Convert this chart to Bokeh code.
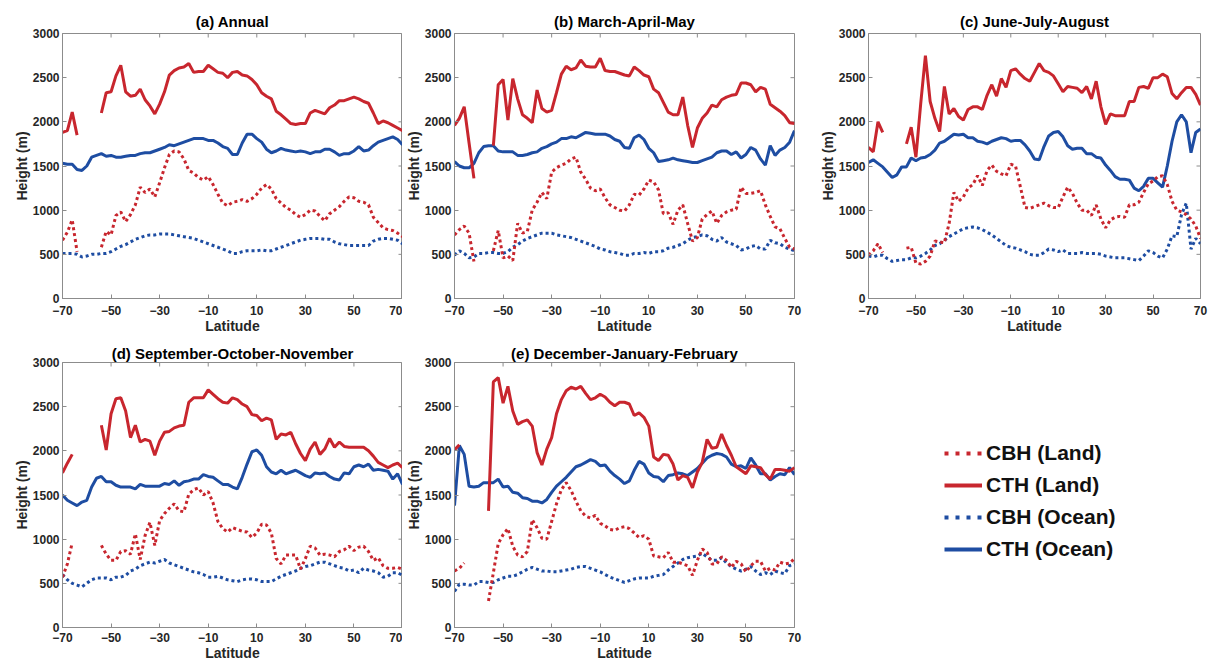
import math
from bokeh.plotting import figure
from bokeh.layouts import row, column
from bokeh.models import Range1d, FixedTicker, Legend, LegendItem, ColumnDataSource
from bokeh.embed import file_html
from bokeh.resources import INLINE

N = float("nan")
lat = list(range(-70, 71, 2))
x_ticks = [-70, -50, -30, -10, 10, 30, 50, 70]
y_ticks = [0, 500, 1000, 1500, 2000, 2500, 3000]
series_names = ["CBH (Land)", "CTH (Land)", "CBH (Ocean)", "CTH (Ocean)"]
titles = ["(a) Annual", "(b) March-April-May", "(c) June-July-August",
          "(d) September-October-November", "(e) December-January-February"]

# ---------------- (a) Annual ----------------
a_cbh_land = [660, 750, 890, 530, N, N, N, N, 580, 760,
              720, 940, 980, 870, 950, 1060, 1260, 1200, 1240, 1150,
              1310, 1480, 1630, 1670, 1660, 1580, 1450, 1420, 1370, 1340,
              1380, 1290, 1180, 1080, 1050, 1090, 1100, 1120, 1100, 1130,
              1180, 1250, 1290, 1240, 1130, 1080, 1030, 1000, 950, 920,
              950, 1000, 990, 930, 880, 960, 1000, 1040, 1100, 1150,
              1140, 1100, 1090, 1060, 920, 860, 800, 780, 770, 740, 700]
a_cth_land = [1880, 1900, 2110, 1850, N, N, N, N, 2100, 2330,
              2340, 2520, 2640, 2340, 2290, 2300, 2370, 2250, 2180, 2090,
              2200, 2340, 2530, 2580, 2610, 2620, 2660, 2560, 2570, 2570,
              2640, 2600, 2560, 2550, 2500, 2560, 2570, 2530, 2520, 2480,
              2420, 2330, 2290, 2260, 2120, 2080, 2030, 1980, 1970, 1980,
              1980, 2100, 2130, 2110, 2090, 2160, 2190, 2240, 2240, 2260,
              2280, 2260, 2230, 2210, 2100, 1980, 2010, 1990, 1960, 1930, 1900]
a_cbh_ocean = [510, 510, 510, 500, 470, 480, 500, 500, 510, 510,
               530, 560, 590, 610, 640, 670, 690, 710, 720, 720,
               730, 730, 730, 720, 710, 700, 690, 680, 660, 640,
               620, 600, 580, 560, 540, 510, 510, 530, 540, 540,
               540, 550, 540, 540, 560, 580, 600, 620, 640, 660,
               670, 680, 680, 680, 670, 670, 640, 620, 610, 600,
               600, 600, 600, 600, 650, 670, 680, 680, 670, 660, 620]
a_cth_ocean = [1530, 1520, 1520, 1460, 1450, 1500, 1600, 1620, 1640, 1610,
               1620, 1600, 1600, 1610, 1620, 1620, 1640, 1650, 1650, 1670,
               1690, 1710, 1740, 1730, 1750, 1770, 1790, 1810, 1810, 1810,
               1790, 1790, 1760, 1720, 1700, 1630, 1630, 1760, 1860, 1860,
               1810, 1770, 1690, 1650, 1670, 1700, 1680, 1670, 1660, 1670,
               1660, 1640, 1660, 1660, 1690, 1690, 1660, 1620, 1640, 1640,
               1670, 1720, 1670, 1680, 1730, 1770, 1790, 1810, 1830, 1800, 1740]

# ---------------- (b) March-April-May ----------------
b_cbh_land = [720, 780, 820, 740, 420, N, N, N, 540, 770,
              460, 480, 430, 850, 740, 760, 1000, 1090, 1200, 1130,
              1430, 1480, 1510, 1530, 1580, 1600, 1430, 1350, 1250, 1220,
              1240, 1140, 1060, 1030, 1000, 990, 1060, 1180, 1170, 1240,
              1340, 1320, 1230, 960, 970, 840, 1000, 1060, 850, 650,
              690, 900, 950, 990, 850, 940, 980, 1000, 1010, 1260,
              1190, 1190, 1200, 1220, 1060, 930, 810, 790, 680, 580, 560]
b_cth_land = [1960, 2040, 2170, 1760, 1360, N, N, N, 1730, 2420,
              2480, 2020, 2490, 2260, 2080, 2040, 1990, 2360, 2150, 2110,
              2130, 2330, 2540, 2630, 2590, 2610, 2700, 2630, 2620, 2620,
              2720, 2580, 2570, 2570, 2550, 2530, 2520, 2620, 2580, 2530,
              2510, 2370, 2330, 2220, 2110, 2080, 2080, 2280, 1960, 1710,
              1930, 2040, 2100, 2190, 2170, 2250, 2280, 2300, 2310, 2440,
              2440, 2420, 2340, 2390, 2370, 2200, 2160, 2120, 2070, 1990, 1980]
b_cbh_ocean = [490, 540, 510, 460, 470, 510, 510, 520, 520, 510,
               510, 530, 580, 610, 650, 680, 700, 720, 740, 740,
               740, 720, 710, 700, 690, 670, 650, 630, 610, 590,
               560, 550, 530, 520, 510, 490, 490, 510, 510, 520,
               510, 530, 530, 540, 570, 580, 600, 620, 660, 690,
               700, 720, 710, 670, 650, 690, 640, 620, 600, 550,
               560, 590, 600, 560, 560, 660, 630, 620, 580, 560, 540]
b_cth_ocean = [1550, 1500, 1480, 1480, 1530, 1650, 1720, 1730, 1730, 1670,
               1660, 1660, 1660, 1620, 1620, 1630, 1650, 1660, 1700, 1720,
               1750, 1770, 1810, 1810, 1830, 1820, 1850, 1880, 1870, 1860,
               1860, 1860, 1840, 1800, 1780, 1710, 1700, 1820, 1850, 1800,
               1700, 1650, 1550, 1560, 1570, 1590, 1570, 1560, 1550, 1540,
               1540, 1560, 1580, 1600, 1650, 1670, 1670, 1630, 1660, 1590,
               1630, 1710, 1680, 1580, 1510, 1730, 1620, 1680, 1710, 1770, 1900]

# ---------------- (c) June-July-August ----------------
c_cbh_land = [490, 540, 620, 520, N, N, N, N, 570, 580,
              400, 390, 420, 480, 650, 640, 630, 850, 1200, 1100,
              1150, 1250, 1290, 1390, 1280, 1450, 1510, 1440, 1410, 1390,
              1520, 1500, 1270, 1030, 1020, 1040, 1060, 1080, 1050, 1030,
              1030, 1150, 1260, 1190, 1080, 1000, 1000, 940, 1060, 900,
              800, 890, 920, 930, 920, 1060, 1060, 1090, 1200, 1300,
              1330, 1380, 1390, 1290, 1100, 1000, 980, 950, 900, 820, 680]
c_cth_land = [1710, 1660, 2000, 1880, N, N, N, N, 1750, 1940,
              1600, 2200, 2750, 2230, 2040, 1890, 2400, 2090, 2150, 2060,
              2020, 2140, 2170, 2170, 2140, 2300, 2420, 2290, 2490, 2390,
              2580, 2600, 2540, 2490, 2460, 2560, 2660, 2580, 2560, 2520,
              2430, 2340, 2400, 2390, 2380, 2330, 2400, 2260, 2460, 2170,
              1970, 2090, 2070, 2070, 2070, 2230, 2230, 2390, 2400, 2380,
              2500, 2500, 2540, 2510, 2320, 2260, 2330, 2390, 2390, 2310, 2190]
c_cbh_ocean = [480, 470, 490, 490, 450, 420, 430, 440, 440, 460,
               460, 480, 510, 550, 600, 620, 660, 700, 730, 760,
               790, 800, 810, 800, 780, 750, 720, 680, 640, 600,
               580, 570, 550, 530, 500, 490, 490, 520, 560, 550,
               530, 550, 510, 510, 510, 520, 510, 510, 510, 500,
               480, 470, 460, 460, 460, 450, 440, 430, 480, 540,
               520, 480, 460, 560, 710, 700, 950, 1080, 560, 680, 620]
c_cth_ocean = [1540, 1570, 1530, 1490, 1430, 1370, 1400, 1490, 1490, 1590,
               1560, 1590, 1600, 1630, 1680, 1760, 1780, 1820, 1860, 1850,
               1860, 1820, 1820, 1780, 1770, 1750, 1780, 1800, 1820, 1810,
               1780, 1790, 1790, 1740, 1670, 1580, 1570, 1720, 1840, 1880,
               1890, 1830, 1730, 1690, 1700, 1700, 1640, 1640, 1600, 1590,
               1510, 1450, 1380, 1350, 1350, 1340, 1250, 1220, 1270, 1360,
               1360, 1310, 1260, 1500, 1780, 2000, 2080, 2000, 1650, 1880, 1920]

# ---------------- (d) September-October-November ----------------
d_cbh_land = [570, 720, 960, N, N, N, N, N, 930, 830,
              760, 760, 860, 870, 830, 1060, 770, 1040, 1190, 930,
              1210, 1290, 1350, 1400, 1320, 1310, 1510, 1560, 1580, 1500,
              1540, 1410, 1200, 1120, 1080, 1130, 1110, 1090, 1080, 1020,
              1070, 1170, 1160, 1070, 780, 720, 820, 820, 820, 660,
              780, 920, 900, 820, 830, 820, 800, 860, 880, 920,
              870, 910, 920, 860, 760, 790, 700, 670, 670, 680, 660]
d_cth_land = [1750, 1860, 1960, N, N, N, N, N, 2290, 2010,
              2420, 2590, 2600, 2450, 2150, 2290, 2100, 2130, 2110, 1950,
              2110, 2210, 2220, 2260, 2280, 2290, 2550, 2600, 2600, 2600,
              2690, 2640, 2590, 2550, 2540, 2600, 2580, 2530, 2500, 2410,
              2400, 2340, 2370, 2350, 2130, 2190, 2180, 2210, 2080, 1970,
              1890, 2020, 2100, 1960, 2020, 2140, 2040, 2100, 2050, 2040,
              2040, 2040, 2040, 2000, 1940, 1870, 1840, 1810, 1840, 1860, 1810]
d_cbh_ocean = [600, 540, 500, 480, 460, 500, 540, 560, 560, 560,
               540, 570, 570, 590, 640, 660, 700, 720, 740, 730,
               750, 770, 730, 710, 690, 670, 650, 630, 620, 600,
               570, 570, 580, 560, 540, 530, 520, 540, 550, 550,
               540, 520, 520, 520, 550, 580, 600, 620, 640, 670,
               690, 700, 720, 740, 740, 720, 700, 680, 670, 640,
               650, 620, 670, 650, 640, 620, 570, 580, 620, 620, 590]
d_cth_ocean = [1500, 1440, 1410, 1380, 1420, 1440, 1590, 1690, 1710, 1650,
               1650, 1610, 1590, 1590, 1590, 1570, 1620, 1600, 1600, 1600,
               1600, 1630, 1620, 1660, 1610, 1650, 1660, 1680, 1680, 1730,
               1710, 1700, 1660, 1620, 1620, 1590, 1570, 1700, 1850, 1990,
               2010, 1950, 1820, 1760, 1740, 1780, 1740, 1760, 1780, 1750,
               1720, 1700, 1750, 1740, 1750, 1710, 1680, 1670, 1750, 1740,
               1820, 1840, 1820, 1850, 1780, 1790, 1780, 1770, 1680, 1740, 1620]

# ---------------- (e) December-January-February ----------------
e_cbh_land = [640, 670, 730, N, N, N, N, 300, 620, 950,
              1050, 1120, 920, 820, 800, 860, 1220, 1130, 1010, 1000,
              1200, 1400, 1560, 1640, 1550, 1430, 1320, 1260, 1240, 1270,
              1180, 1150, 1110, 1100, 1130, 1140, 1120, 1070, 1020, 1040,
              1000, 810, 800, 790, 850, 740, 740, 720, 700, 590,
              760, 890, 850, 720, 720, 800, 760, 680, 750, 720,
              630, 700, 750, 750, 640, 670, 650, 740, 720, 730, 780]
e_cth_land = [2010, 2070, N, N, N, N, N, 1320, 2780, 2830,
              2540, 2730, 2450, 2300, 2330, 2350, 2280, 1980, 1840, 2020,
              2150, 2420, 2580, 2680, 2720, 2700, 2730, 2650, 2580, 2600,
              2640, 2610, 2550, 2510, 2550, 2550, 2530, 2400, 2430, 2380,
              2280, 1930, 1890, 1960, 1950, 1850, 1670, 1720, 1700, 1580,
              1760, 1870, 2130, 2030, 2040, 2190, 2060, 1950, 1820, 1780,
              1740, 1830, 1820, 1810, 1730, 1680, 1790, 1790, 1780, 1770, 1810]
e_cbh_ocean = [410, 490, 490, 480, 480, 520, 520, 510, 510, 540,
               560, 580, 580, 600, 630, 660, 680, 660, 640, 640,
               630, 630, 640, 650, 660, 680, 690, 690, 670, 650,
               630, 600, 570, 550, 530, 510, 530, 550, 560, 560,
               560, 580, 590, 600, 650, 690, 730, 770, 790, 800,
               810, 840, 800, 760, 760, 790, 730, 690, 660, 640,
               660, 690, 640, 600, 620, 600, 640, 620, 610, 700, 720]
e_cth_ocean = [1380, 2060, 1960, 1600, 1590, 1600, 1640, 1640, 1640, 1680,
               1590, 1600, 1530, 1520, 1470, 1460, 1430, 1430, 1410, 1450,
               1530, 1600, 1650, 1700, 1760, 1820, 1840, 1870, 1900, 1880,
               1830, 1840, 1770, 1720, 1680, 1630, 1660, 1780, 1880, 1850,
               1750, 1710, 1700, 1650, 1720, 1730, 1750, 1740, 1720, 1760,
               1800, 1860, 1920, 1950, 1970, 1960, 1930, 1850, 1820, 1830,
               1800, 1920, 1840, 1740, 1740, 1670, 1710, 1740, 1730, 1810, 1730]

RED = "#C8262E"
BLUE = "#1E4DA2"
FONT = "Liberation Sans"
TXT = "#262626"
FRAME = "#8C8C8C"
X_MIN, X_MAX, Y_MIN, Y_MAX = -70, 70, 0, 3000


def style_axis(ax):
    ax.axis_line_color = FRAME
    ax.major_tick_line_color = FRAME
    ax.major_tick_in = 4
    ax.major_tick_out = 0
    ax.minor_tick_line_color = None
    ax.major_label_text_font = FONT
    ax.major_label_text_font_size = "12px"
    ax.major_label_text_font_style = "bold"
    ax.major_label_text_color = TXT
    ax.axis_label_text_font = FONT
    ax.axis_label_text_font_size = "14px"
    ax.axis_label_text_font_style = "bold"
    ax.axis_label_text_color = TXT


def make_panel(title, cbh_l, cth_l, cbh_o, cth_o, fw, bl, br, bt, bb, xstand, tstand):
    for s in (cbh_l, cth_l, cbh_o, cth_o):
        assert len(s) == len(lat), (title, len(s))
    p = figure(frame_width=fw, frame_height=265,
               x_range=Range1d(X_MIN, X_MAX), y_range=Range1d(Y_MIN, Y_MAX),
               output_backend="svg", toolbar_location=None,
               min_border_left=bl, min_border_right=br,
               min_border_top=bt, min_border_bottom=bb, title=title)
    p.title.text_font = FONT
    p.title.text_font_size = "15px"
    p.title.text_font_style = "bold"
    p.title.text_color = "#000000"
    p.title.align = "center"
    p.title.standoff = tstand
    p.grid.visible = False
    p.outline_line_color = FRAME
    p.outline_line_width = 1
    p.xaxis.ticker = FixedTicker(ticks=x_ticks)
    p.yaxis.ticker = FixedTicker(ticks=y_ticks)
    p.xaxis.axis_label = "Latitude"
    p.yaxis.axis_label = "Height (m)"
    for ax in p.axis:
        style_axis(ax)
    p.xaxis.major_label_standoff = xstand
    p.xaxis.axis_label_standoff = 0
    p.yaxis.major_label_standoff = 3
    p.yaxis.axis_label_standoff = 0
    # box-style inward tick marks on the top and right edges (no labels)
    p.ray(x=x_ticks, y=[Y_MAX] * len(x_ticks), length=4, length_units="screen",
          angle=-math.pi / 2, line_color=FRAME, line_width=1)
    p.ray(x=[X_MAX] * len(y_ticks), y=y_ticks, length=4, length_units="screen",
          angle=math.pi, line_color=FRAME, line_width=1)
    src = ColumnDataSource(dict(lat=lat, cbh_l=cbh_l, cth_l=cth_l, cbh_o=cbh_o, cth_o=cth_o))
    p.line("lat", "cbh_o", source=src, color=BLUE, line_width=3, line_dash="3 3")
    p.line("lat", "cth_o", source=src, color=BLUE, line_width=3)
    p.line("lat", "cbh_l", source=src, color=RED, line_width=3, line_dash="3 3")
    p.line("lat", "cth_l", source=src, color=RED, line_width=3)
    return p


pa = make_panel(titles[0], a_cbh_land, a_cth_land, a_cbh_ocean, a_cth_ocean, 340, 62, 0, 33, 42, 7, 7)
pb = make_panel(titles[1], b_cbh_land, b_cth_land, b_cbh_ocean, b_cth_ocean, 340, 50, 22, 33, 42, 7, 7)
pc = make_panel(titles[2], c_cbh_land, c_cth_land, c_cbh_ocean, c_cth_ocean, 332, 50, 8, 33, 42, 7, 7)
pd = make_panel(titles[3], d_cbh_land, d_cth_land, d_cbh_ocean, d_cth_ocean, 340, 62, 0, 22, 36, 5, 2)
pe = make_panel(titles[4], e_cbh_land, e_cth_land, e_cbh_ocean, e_cth_ocean, 340, 52, 19, 22, 36, 5, 2)

# legend panel (legend-only renderers carry no visible data)
pl = figure(width=393, height=323, x_range=Range1d(0, 1), y_range=Range1d(0, 1),
            output_backend="svg", toolbar_location=None, x_axis_type=None, y_axis_type=None,
            min_border_left=41, min_border_right=0, min_border_top=0, min_border_bottom=0)
pl.grid.visible = False
pl.outline_line_color = None
placeholder = ColumnDataSource(dict(x=[N], y=[N]))
styles = [(RED, "4 7"), (RED, "solid"), (BLUE, "4 7"), (BLUE, "solid")]
items = []
for name, (col, dash) in zip(series_names, styles):
    r = pl.line("x", "y", source=placeholder, color=col, line_width=4, line_dash=dash)
    items.append(LegendItem(label=name, renderers=[r]))
leg = Legend(items=items, location=(90, 62), orientation="vertical",
             glyph_width=38, glyph_height=32, label_height=32, spacing=0,
             padding=0, margin=0, label_standoff=4,
             label_text_font=FONT, label_text_font_size="21px",
             label_text_font_style="bold", label_text_color="#111111",
             border_line_color=None, background_fill_alpha=0)
pl.add_layout(leg)

layout = column(row(pa, pb, pc), row(pd, pe, pl))

with open("out.html", "w") as f:
    f.write(file_html(layout, INLINE))
